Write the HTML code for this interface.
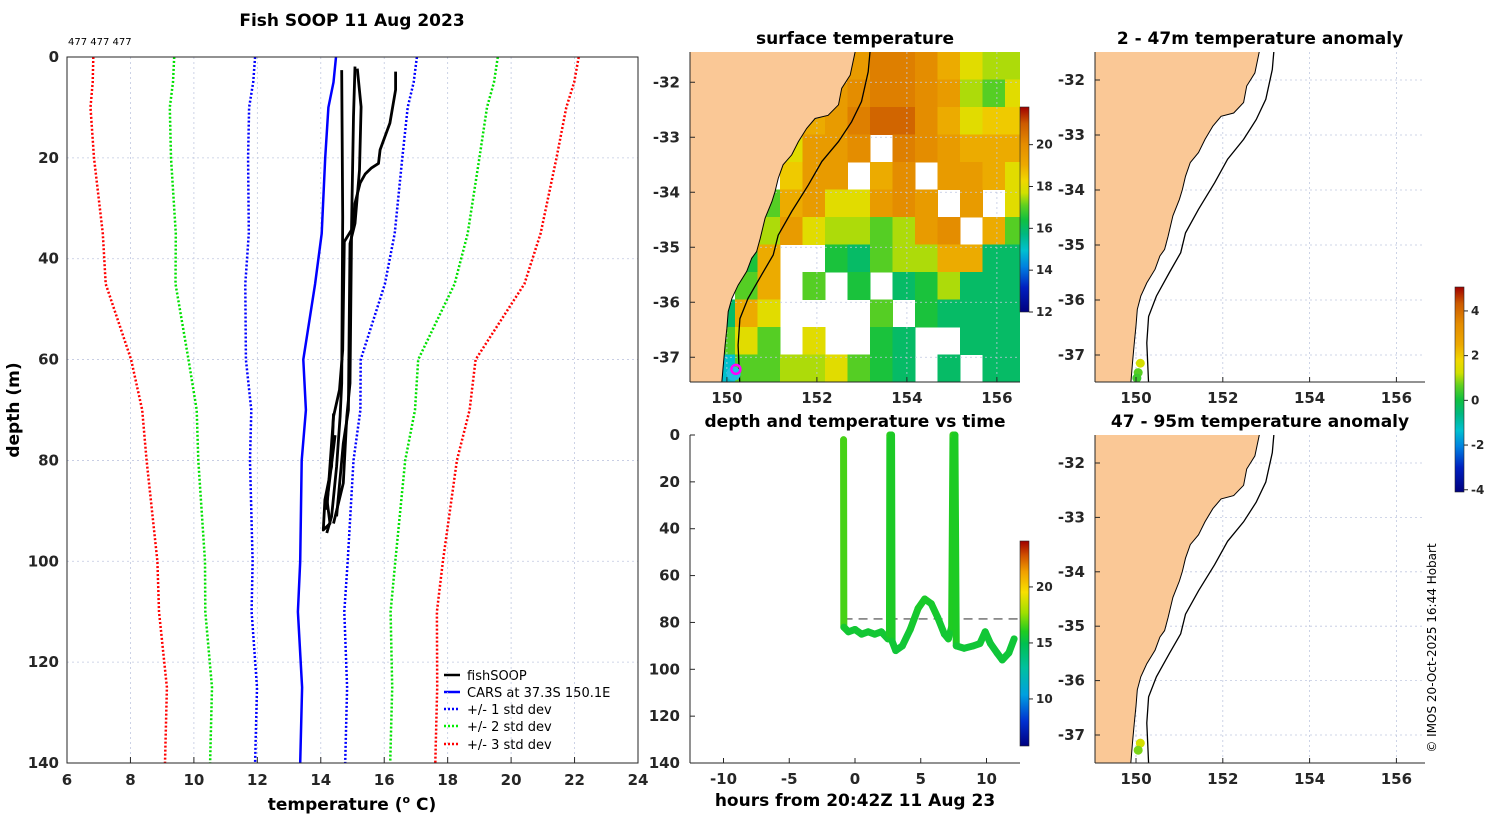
<!DOCTYPE html>
<html><head><meta charset="utf-8"><title>Fish SOOP 11 Aug 2023</title>
<style>
html,body{margin:0;padding:0;background:#fff;}
svg{display:block;font-family:"DejaVu Sans","Liberation Sans",sans-serif;}
.tk{font-size:15px;font-weight:bold;fill:#262626;}
.tt{font-size:17px;font-weight:bold;fill:#000;}
.cb{font-size:12px;font-weight:bold;fill:#262626;}
.lg{font-size:13px;fill:#000;}
</style></head>
<body>
<svg id="fig" width="1500" height="820" viewBox="0 0 1500 820" xmlns="http://www.w3.org/2000/svg">
<text x="352" y="26" text-anchor="middle" class="tt">Fish SOOP 11 Aug 2023</text>
<text x="68" y="45" style="font-size:10px">477 477 477</text>
<text x="855" y="44" text-anchor="middle" class="tt">surface temperature</text>
<text x="1260" y="44" text-anchor="middle" class="tt">2 - 47m temperature anomaly</text>
<text x="855" y="427" text-anchor="middle" class="tt">depth and temperature vs time</text>
<text x="1260" y="427" text-anchor="middle" class="tt">47 - 95m temperature anomaly</text>
<text x="352" y="810" text-anchor="middle" class="tt">temperature (<tspan dy="-7" style="font-size:11px">o</tspan><tspan dy="7"> C)</tspan></text>
<text transform="translate(19,410) rotate(-90)" text-anchor="middle" class="tt">depth (m)</text>
<text x="855" y="806" text-anchor="middle" class="tt">hours from 20:42Z 11 Aug 23</text>
<text transform="translate(1436,648) rotate(-90)" text-anchor="middle" style="font-size:12px;fill:#000">© IMOS 20-Oct-2025 16:44 Hobart</text>
<g id="legend">
<line x1="444" y1="675" x2="460" y2="675" stroke="#000" stroke-width="2.5"/>
<text x="467" y="680" class="lg">fishSOOP</text>
<line x1="444" y1="692" x2="460" y2="692" stroke="#0000ff" stroke-width="2.5"/>
<text x="467" y="697" class="lg">CARS at 37.3S 150.1E</text>
<line x1="444" y1="709" x2="460" y2="709" stroke="#0000ff" stroke-width="2.5" stroke-dasharray="2 2"/>
<text x="467" y="714" class="lg">+/- 1 std dev</text>
<line x1="444" y1="726" x2="460" y2="726" stroke="#00ee00" stroke-width="2.5" stroke-dasharray="2 2"/>
<text x="467" y="731" class="lg">+/- 2 std dev</text>
<line x1="444" y1="744" x2="460" y2="744" stroke="#ff0000" stroke-width="2.5" stroke-dasharray="2 2"/>
<text x="467" y="749" class="lg">+/- 3 std dev</text>
</g>
</svg>
<script>
// ---------- data ----------
const xTicks = [6,8,10,12,14,16,18,20,22,24];
const yTicks = [0,20,40,60,80,100,120,140];
const carsDepth = [0,5,10,20,35,45,60,70,80,100,110,125,140];
const carsMean = [14.48,14.40,14.24,14.14,14.03,13.82,13.45,13.53,13.40,13.35,13.28,13.41,13.35];
const carsStd = [2.55,2.53,2.50,2.43,2.30,2.20,1.81,1.72,1.63,1.50,1.46,1.42,1.42];
const p1Temp = [14.66,14.69,14.66,14.61,14.50,14.34,14.19];
const p1Depth = [2.6,31.7,64.7,71.3,81.2,91.1,94.4];
const p2Temp = [15.15,15.27,15.22,15.08,14.92,14.87,14.71,14.50];
const p2Depth = [2.3,9.9,22.4,33,37,70,76.6,91.1];
const p3Temp = [15.08,15.03,14.97,14.74,14.69,14.59,14.40,14.19];
const p3Depth = [1.9,11.8,34.3,36.6,58.1,66,71.3,89.8];
const p4Temp = [16.36,16.36,16.18,15.87,15.82,15.60,15.40,15.24,15.08,14.97,14.92,14.82,14.71,14.40];
const p4Depth = [2.9,6.5,13.1,18.4,21.1,22.0,23.2,25,29,35.6,64.7,71.3,84.5,92.5];
const p5Temp = [14.40,14.34,14.13,14.08,14.29,14.20,14.45];
const p5Depth = [70.7,81.2,87.8,93.8,92.5,88,75];

const sstLonEdges = [149.18,149.68,150.18,150.68,151.18,151.68,152.18,152.68,153.18,153.68,154.18,154.68,155.18,155.68,156.18,156.68];
const sstLatEdges = [-31.45,-31.95,-32.45,-32.95,-33.45,-33.95,-34.45,-34.95,-35.45,-35.95,-36.45,-36.95,-37.49];
const N = null;
const sstGrid = [
 [N,N,N,N,N,N,19.3,19.5,20.3,20.3,20,19,18,17.5,17.5],
 [N,N,N,N,N,19,19.5,20,20.3,20.3,20,19.5,17.5,17,18],
 [N,N,N,N,N,19,19.5,20.3,20.8,20.8,20,19,18,18.5,18.5],
 [N,N,N,N,18,19.5,19.5,20,N,20.3,20,19.5,19,19,19],
 [N,N,N,N,18.5,19.5,19.5,N,19,20,N,19.5,19.5,19,18],
 [N,N,N,17,19,19.5,18,18,19.5,20,19.5,N,19.5,N,18],
 [N,N,N,17.5,19.5,18,17.5,17.5,17,17.5,19.5,20,N,19,17],
 [N,N,16.5,19,N,N,16.5,16,17,17.5,17.5,19,19,16,16],
 [N,N,17,19,N,17,N,16.5,N,16,16.5,17.5,16,16,16],
 [N,16,19,18,N,N,N,N,17,N,16.5,16,16,16,16],
 [N,17,18,17,N,18,N,N,16.5,16,N,N,16,16,16],
 [N,15,17,17,17.5,17.5,18,17,16.5,16,N,16,N,16,16]
];
const coastLon = [152.85,152.74,152.55,152.48,152.25,151.96,151.77,151.59,151.44,151.25,151.14,151.07,151.00,150.85,150.74,150.66,150.55,150.44,150.25,150.11,150.03,150.00,149.96,149.92,149.88];
const coastLat = [-31.45,-31.87,-32.11,-32.41,-32.60,-32.66,-32.84,-33.08,-33.32,-33.50,-33.75,-33.99,-34.17,-34.47,-34.84,-35.08,-35.20,-35.44,-35.69,-35.93,-36.17,-36.47,-36.78,-37.14,-37.52];
const isoLon = [153.18,153.14,152.99,152.77,152.48,152.11,151.81,151.44,151.14,151.03,150.77,150.47,150.29,150.25,150.29];
const isoLat = [-31.45,-31.81,-32.35,-32.72,-33.08,-33.44,-33.87,-34.35,-34.78,-35.14,-35.50,-35.93,-36.30,-36.78,-37.52];

const traceHour = [-0.87,-0.85,-0.5,0,0.5,1,1.5,2,2.5,2.62,2.65,2.78,2.82,3.1,3.6,4.2,4.8,5.3,5.8,6.3,6.8,7.1,7.35,7.45,7.6,7.7,8.3,9,9.5,9.9,10.3,10.8,11.2,11.7,12.1];
const traceDepth = [2,82,84,83,85,84,85,84,87,85,0,0,88,92,90,83,74,70,72,78,85,87,82,0,0,90,91,90,89,84,89,93,96,93,87];
const traceTemp = [17.3,15.8,15.6,15.6,15.6,15.6,15.6,15.6,15.6,15.7,16.2,16.2,15.6,15.5,15.5,15.6,15.8,15.9,15.8,15.7,15.6,15.6,15.7,16.3,16.3,15.6,15.5,15.5,15.5,15.6,15.5,15.5,15.4,15.5,15.5];
const targetDepth = 78.5;
const traceXTicks = [-10,-5,0,5,10];
const traceYTicks = [0,20,40,60,80,100,120,140];
const mapLonTicks = [150,152,154,156];
const mapLatTicks = [-32,-33,-34,-35,-36,-37];
const sstCbTicks = [20,18,16,14,12];
const traceCbTicks = [20,15,10];
const anomCbTicks = [4,2,0,-2,-4];
const anomLonTop = [150.1,150.05,150.02];
const anomLatTop = [-37.15,-37.32,-37.42];
const anomValTop = [1.3,0.6,0.4];
const anomLonBot = [150.1,150.05];
const anomLatBot = [-37.15,-37.28];
const anomValBot = [1.3,0.8];

// ---------- helpers ----------
const NS = 'http://www.w3.org/2000/svg';
const svg = document.getElementById('fig');
function mk(tag, attrs, parent){const e=document.createElementNS(NS,tag);for(const k in attrs)e.setAttribute(k,attrs[k]);(parent||svg).appendChild(e);return e;}
function hex(c){return [parseInt(c.substr(1,2),16),parseInt(c.substr(3,2),16),parseInt(c.substr(5,2),16)];}
function cmap(stops,v){v=Math.max(0,Math.min(1,v));for(let i=1;i<stops.length;i++){if(v<=stops[i][0]){const a=stops[i-1],b=stops[i];const f=(v-a[0])/(b[0]-a[0]||1);const ca=hex(a[1]),cb=hex(b[1]);return 'rgb('+ca.map((x,j)=>Math.round(x+(cb[j]-x)*f)).join(',')+')';}}return stops[stops.length-1][1];}
const stopsA=[[0,'#00007f'],[0.12,'#0020c0'],[0.22,'#0080e0'],[0.3,'#00c0d0'],[0.38,'#00b880'],[0.45,'#10c040'],[0.52,'#60d020'],[0.58,'#d0e000'],[0.64,'#f0d800'],[0.72,'#eca800'],[0.82,'#e48c00'],[0.92,'#cc5a00'],[1,'#a00000']];
const stopsB=[[0,'#00007f'],[0.12,'#0030d0'],[0.25,'#00a0e0'],[0.38,'#00c0a0'],[0.5,'#00c050'],[0.56,'#20cc20'],[0.65,'#a0e000'],[0.75,'#f8e000'],[0.85,'#f0a000'],[0.93,'#d05000'],[1,'#a00000']];
function pts(xs,ys,fx,fy){return xs.map((x,i)=>fx(x).toFixed(1)+','+fy(ys[i]).toFixed(1)).join(' ');}
function gradient(id,stops){const d=svg.querySelector('defs')||mk('defs',{});const g=mk('linearGradient',{id:id,x1:0,y1:1,x2:0,y2:0},d);stops.forEach(s=>mk('stop',{offset:s[0],'stop-color':s[1]},g));}
gradient('gA',stopsA);gradient('gB',stopsB);

// ---------- left profile panel ----------
const L={x0:67,x1:638,y0:57,y1:763};
const lx=t=>L.x0+(t-6)/18*(L.x1-L.x0);
const ly=d=>L.y0+d/140*(L.y1-L.y0);
const gL=mk('g',{});


xTicks.forEach(t=>{
 const g=mk('line',{x1:lx(t),x2:lx(t),y1:L.y0,y2:L.y1,stroke:'#c0c8e0','stroke-width':0.8,'stroke-dasharray':'2 3'},gL);
 
 
 const tk=mk('line',{x1:lx(t),x2:lx(t),y1:L.y1,y2:L.y1-6,stroke:'#262626'},gL);
 
 
 const lb=mk('text',{x:lx(t),y:L.y1+22,'text-anchor':'middle',class:'tk'},gL);lb.textContent=t;
 
 
});
yTicks.forEach(d=>{
 const g=mk('line',{x1:L.x0,x2:L.x1,y1:ly(d),y2:ly(d),stroke:'#c0c8e0','stroke-width':0.8,'stroke-dasharray':'2 3'},gL);
 
 
 const lb=mk('text',{x:L.x0-8,y:ly(d)+5,'text-anchor':'end',class:'tk'},gL);lb.textContent=d;
 
 
});
const stdDefs=[[3,'#ff0000'],[2,'#00e000'],[1,'#0000ff']];
stdDefs.forEach(s=>{[-1,1].forEach(sg=>{
 const l=mk('polyline',{points:pts(carsMean.map((m,i)=>m+sg*s[0]*carsStd[i]),carsDepth,lx,ly),fill:'none',stroke:s[1],'stroke-width':2.5,'stroke-dasharray':'2 2'},gL);
 
 
});});
const cars=mk('polyline',{points:pts(carsMean,carsDepth,lx,ly),fill:'none',stroke:'#0000ff','stroke-width':2.5},gL);


[[p1Temp,p1Depth],[p2Temp,p2Depth],[p3Temp,p3Depth],[p4Temp,p4Depth],[p5Temp,p5Depth]].forEach((p,i)=>{
 const l=mk('polyline',{points:pts(p[0],p[1],lx,ly),fill:'none',stroke:'#000','stroke-width':2.8,'stroke-linejoin':'round'},gL);
 
 
});
const boxL=mk('rect',{x:L.x0,y:L.y0,width:L.x1-L.x0,height:L.y1-L.y0,fill:'none',stroke:'#262626','stroke-width':1},gL);



// ---------- map helpers ----------
function drawMap(name,X0,X1,Y0,Y1,fx,fy,withSst){
 const g=mk('g',{});
 
 
 const cid='clip-'+name;
 const cp=mk('clipPath',{id:cid},svg.querySelector('defs'));mk('rect',{x:X0,y:Y0,width:X1-X0,height:Y1-Y0},cp);
 const inner=mk('g',{'clip-path':'url(#'+cid+')'},g);
 if(withSst){
  sstGrid.forEach((row,j)=>row.forEach((v,i)=>{
   if(v===null)return;
   const r=mk('rect',{x:fx(sstLonEdges[i]),y:fy(sstLatEdges[j]),width:fx(sstLonEdges[i+1])-fx(sstLonEdges[i])+0.5,height:fy(sstLatEdges[j+1])-fy(sstLatEdges[j])+0.5,fill:cmap(stopsA,(v-12)/9.8)},inner);
   
   
  }));
 }
 mapLonTicks.forEach(lon=>{const l=mk('line',{x1:fx(lon),x2:fx(lon),y1:Y0,y2:Y1,stroke:'#c0c8e0','stroke-width':0.8,'stroke-dasharray':'2 3'},inner);
  
  });
 mapLatTicks.forEach(lat=>{const l=mk('line',{x1:X0,x2:X1,y1:fy(lat),y2:fy(lat),stroke:'#c0c8e0','stroke-width':0.8,'stroke-dasharray':'2 3'},inner);
  
  });
 const land=mk('polygon',{points:pts(coastLon,coastLat,fx,fy)+' '+(X0-5)+','+(Y1+5)+' '+(X0-5)+','+(Y0-5),fill:'#fac896',stroke:'none'},inner);
 
 
 const coast=mk('polyline',{points:pts(coastLon,coastLat,fx,fy),fill:'none',stroke:'#000','stroke-width':1},inner);
 
 
 const iso=mk('polyline',{points:pts(isoLon,isoLat,fx,fy),fill:'none',stroke:'#000','stroke-width':1.3},inner);
 
 
 mk('line',{x1:X0,x2:X1,y1:Y1,y2:Y1,stroke:'#262626'},g);
 mk('line',{x1:X0,x2:X0,y1:Y0,y2:Y1,stroke:'#262626'},g);
 mapLonTicks.forEach(lon=>{mk('line',{x1:fx(lon),x2:fx(lon),y1:Y1,y2:Y1-5,stroke:'#262626'},g);
  const t=mk('text',{x:fx(lon),y:Y1+21,'text-anchor':'middle',class:'tk'},g);t.textContent=lon;
  
  });
 mapLatTicks.forEach(lat=>{mk('line',{x1:X0,x2:X0+5,y1:fy(lat),y2:fy(lat),stroke:'#262626'},g);
  const t=mk('text',{x:X0-10,y:fy(lat)+5,'text-anchor':'end',class:'tk'},g);t.textContent=lat;
  
  });
 return inner;
}
function colorbar(name,x,y0,y1,grad,vmin,vmax,ticks){
 const g=mk('g',{});
 
 
 mk('rect',{x:x,y:y0,width:9,height:y1-y0,fill:'url(#'+grad+')',stroke:'#262626','stroke-width':0.6},g);
 ticks.forEach(v=>{const yy=y1-(v-vmin)/(vmax-vmin)*(y1-y0);
  mk('line',{x1:x+9,x2:x+13,y1:yy,y2:yy,stroke:'#262626'},g);
  const t=mk('text',{x:x+16,y:yy+4,class:'cb'},g);t.textContent=v;
  
  });
}

// SST map
const mx=lon=>690+(lon-149.18)*45, my=lat=>52+(-31.45-lat)*55;
const sstInner=drawMap('sst-map',690,1020,52,382,mx,my,true);
const blob=mk('circle',{cx:mx(150.15),cy:my(-37.3),r:7,fill:'#20c0e0'},sstInner);


const loc=mk('circle',{cx:mx(150.2),cy:my(-37.22),r:4.5,fill:'none',stroke:'#ff00ff','stroke-width':2.5},sstInner);


colorbar('sst-colorbar',1020,107,312,'gA',12,21.8,sstCbTicks);

// anomaly maps
const r1x=lon=>1136+(lon-150)*43.4, r1y=lat=>80+(-32-lat)*55;
const a1=drawMap('anomaly-map-top',1095,1425,52,382,r1x,r1y,false);
anomValTop.forEach((v,i)=>{const c=mk('circle',{cx:r1x(anomLonTop[i]),cy:r1y(anomLatTop[i]),r:4.5,fill:cmap(stopsA,(v+4.1)/9.17)},a1);
 
 });
const r2y=lat=>463+(-32-lat)*54.4;
const a2=drawMap('anomaly-map-bottom',1095,1425,435,763,r1x,r2y,false);
anomValBot.forEach((v,i)=>{const c=mk('circle',{cx:r1x(anomLonBot[i]),cy:r2y(anomLatBot[i]),r:4.5,fill:cmap(stopsA,(v+4.1)/9.17)},a2);
 
 });
colorbar('anomaly-colorbar',1455,287,492,'gA',-4.1,5.07,anomCbTicks);

// trace panel
const tx=h=>855+h*13.15, ty=d=>435+d*2.343;
const gT=mk('g',{});


mk('line',{x1:690,x2:1020,y1:763,y2:763,stroke:'#262626'},gT);
mk('line',{x1:690,x2:690,y1:435,y2:763,stroke:'#262626'},gT);
traceXTicks.forEach(h=>{mk('line',{x1:tx(h),x2:tx(h),y1:763,y2:758,stroke:'#262626'},gT);
 const t=mk('text',{x:tx(h),y:784,'text-anchor':'middle',class:'tk'},gT);t.textContent=h;
 
 });
traceYTicks.forEach(d=>{mk('line',{x1:690,x2:695,y1:ty(d),y2:ty(d),stroke:'#262626'},gT);
 const t=mk('text',{x:680,y:ty(d)+5,'text-anchor':'end',class:'tk'},gT);t.textContent=d;
 
 });
const tl=mk('line',{x1:tx(traceHour[0]),x2:tx(12.5),y1:ty(targetDepth),y2:ty(targetDepth),stroke:'#444','stroke-width':1.2,'stroke-dasharray':'9 6'},gT);


for(let i=1;i<traceHour.length;i++){
 const s=mk('line',{x1:tx(traceHour[i-1]),y1:ty(traceDepth[i-1]),x2:tx(traceHour[i]),y2:ty(traceDepth[i]),stroke:cmap(stopsB,((traceTemp[i-1]+traceTemp[i])/2-5.8)/18.3),'stroke-width':7,'stroke-linecap':'round'},gT);
 
 
}
colorbar('trace-colorbar',1020,541,746,'gB',5.8,24.1,traceCbTicks);
</script>
</body></html>
